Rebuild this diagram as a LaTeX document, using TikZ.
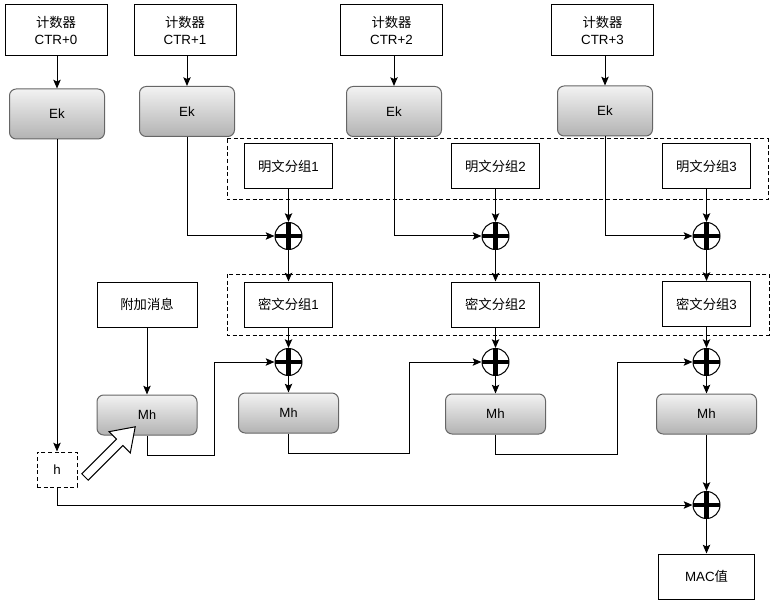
\documentclass[tikz,border=0pt]{standalone}
\usepackage{fontspec}
\setmainfont{Liberation Sans}
\newfontfamily\cjk{Noto Sans CJK SC}
\usetikzlibrary{arrows.meta}
\begin{document}
\begin{tikzpicture}[x=0.75pt,y=-0.75pt,
  every node/.style={font=\fontsize{10}{12.5}\selectfont, inner sep=0pt, align=center},
  wbox/.style={draw, fill=white, line width=0.75pt, rectangle},
  ctrbox/.style={wbox, minimum width=76.5pt, minimum height=38.25pt},
  pbox/.style={wbox, minimum width=66pt, minimum height=33.75pt},
  gbox/.style={draw=black!60, rounded corners=5pt, top color=black!5, bottom color=black!30, line width=0.75pt},
  ekbox/.style={gbox, minimum width=71.25pt, minimum height=37.5pt},
  mhbox/.style={gbox, minimum width=75pt, minimum height=30pt},
  grp/.style={draw, line width=0.75pt, dash pattern=on 3pt off 2pt},
  xor/.style={circle, draw, fill=white, line width=0.75pt, minimum size=20.25pt,
    path picture={\draw[line width=3.2pt] (path picture bounding box.north) -- (path picture bounding box.south)
      (path picture bounding box.west) -- (path picture bounding box.east);}},
  arr/.style={line width=0.75pt, -{Stealth[length=6.5pt,width=5.5pt,inset=1.2pt]}},
  ln/.style={line width=0.75pt}
]
\useasboundingbox (0,0) rectangle (782,606);

% dashed groups
\draw[grp] (227,139) rectangle (768,200);
\draw[grp] (227,274) rectangle (769,335);

% counters
\node[ctrbox] (c0) at (56,30.5) {{\cjk 计数器}\\CTR+0};
\node[ctrbox] (c1) at (185,30.5) {{\cjk 计数器}\\CTR+1};
\node[ctrbox] (c2) at (391.5,30.5) {{\cjk 计数器}\\CTR+2};
\node[ctrbox] (c3) at (602.5,30.5) {{\cjk 计数器}\\CTR+3};

% Ek
\node[ekbox] (e0) at (57,114) {Ek};
\node[ekbox] (e1) at (187,111.5) {Ek};
\node[ekbox] (e2) at (394,111.5) {Ek};
\node[ekbox] (e3) at (605,111) {Ek};

% plaintext
\node[pbox] (p1) at (288.5,166.5) {{\cjk 明文分组}1};
\node[pbox] (p2) at (495.5,166.5) {{\cjk 明文分组}2};
\node[pbox] (p3) at (706.5,166.5) {{\cjk 明文分组}3};

% xor row 1
\node[xor] (x1) at (288.5,236) {};
\node[xor] (x2) at (495.5,236) {};
\node[xor] (x3) at (706.5,236) {};

% ciphertext
\node[pbox] (k1) at (288.5,304.5) {{\cjk 密文分组}1};
\node[pbox] (k2) at (495.5,304.5) {{\cjk 密文分组}2};
\node[pbox] (k3) at (706.5,304) {{\cjk 密文分组}3};

\node[wbox, minimum width=75pt, minimum height=33.75pt] (add) at (147,304.5) {\cjk 附加消息};

% xor row 2
\node[xor] (y1) at (288.5,362) {};
\node[xor] (y2) at (495.5,362) {};
\node[xor] (y3) at (706.5,362) {};

% Mh
\node[mhbox] (m0) at (147,415) {M\raisebox{-0.5pt}{\fontsize{9.5}{11}\selectfont h}};
\node[mhbox] (m1) at (288.5,413) {M\raisebox{-0.5pt}{\fontsize{9.5}{11}\selectfont h}};
\node[mhbox] (m2) at (495.5,414) {Mh};
\node[mhbox] (m3) at (706.5,414) {Mh};

\node[grp, fill=white, minimum width=30pt, minimum height=26.25pt] (h) at (57,469.5) {h};

\node[xor] (z) at (706.5,505) {};
\node[wbox, minimum width=72pt, minimum height=33.75pt] (mac) at (706.5,576.5) {MAC{\cjk 值}};

% connectors
\foreach \i in {0,1,2,3} {
  \draw[arr] (c\i.south -| e\i.north) -- (e\i.north);
}
\draw[arr] (e0.south) -- (h.north);
\foreach \i in {1,2,3} {
  \draw[arr] (e\i.south) |- (x\i.west);
  \draw[arr] (p\i.south) -- (x\i.north);
  \draw[arr] (x\i.south) -- (k\i.north);
  \draw[arr] (k\i.south) -- (y\i.north);
  \draw[arr] (y\i.south) -- (m\i.north);
}
\draw[arr] (add.south) -- (m0.north);

\coordinate (b0) at (214,455);
\coordinate (b1) at (409,453);
\coordinate (b2) at (617,454);
\draw[arr] (m0.south) |- (b0) |- (y1.west);
\draw[arr] (m1.south) |- (b1) |- (y2.west);
\draw[arr] (m2.south) |- (b2) |- (y3.west);
\draw[arr] (m3.south) -- (z.north);
\draw[arr] (h.south) |- (z.west);
\draw[arr] (z.south) -- (mac.north);

% hollow arrow
\draw[ln, fill=white, line join=miter] (81.8,473.8) -- (116.5,439.2) -- (109.0,431.7) -- (135.2,426.8)
  -- (130.3,453.0) -- (122.8,445.5) -- (88.2,480.2) -- cycle;
\end{tikzpicture}
\end{document}
